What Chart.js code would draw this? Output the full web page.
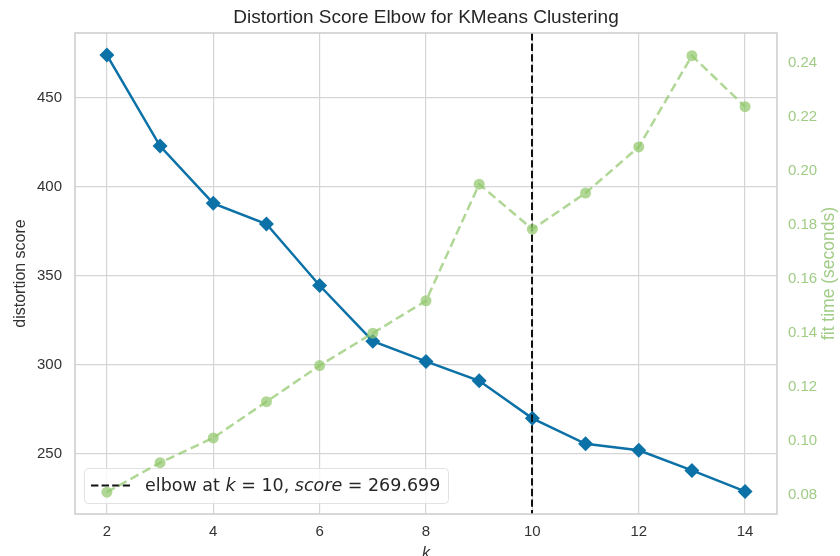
<!DOCTYPE html>
<html>
<head>
<meta charset="utf-8">
<script src="https://cdn.jsdelivr.net/npm/chart.js@4.4.1/dist/chart.umd.min.js"></script>
<style>
    html, body { margin: 0; padding: 0; background: #fff; }
    #wrap { width: 840px; height: 556px; }
</style>
</head>
<body>
<div id="wrap"><canvas id="elbowChart" width="840" height="556"></canvas></div>
<script>
// ==================================================
// DATA
// ==================================================
const kValues = [2, 3, 4, 5, 6, 7, 8, 9, 10, 11, 12, 13, 14];
const distortionScores = [474.0, 422.8, 390.6, 379.0, 344.4, 313.1, 301.7, 290.8, 269.699, 255.4, 251.7, 240.4, 228.6];
const fitTimes = [0.0811, 0.0920, 0.1012, 0.1146, 0.1280, 0.1400, 0.1520, 0.1952, 0.1785, 0.1919, 0.2090, 0.2428, 0.2239];

const kTicks = [2, 4, 6, 8, 10, 12, 14];
const scoreTicks = [250, 300, 350, 400, 450];
const timeTicks = [0.08, 0.10, 0.12, 0.14, 0.16, 0.18, 0.20, 0.22, 0.24];

const elbowK = 10;
const elbowScore = 269.699;

// ==================================================
// STYLE
// ==================================================
const SANS = "'Liberation Sans', Arial, sans-serif";
const DEJAVU = "'DejaVu Sans', sans-serif";
const BLUE = '#0b71a6';
const GREEN = 'rgba(146, 200, 108, 0.72)';
const GREEN_TEXT = '#a0cc86';
const TEXT = '#333333';
const GRID = '#d5d5d5';

const fixSize = (w, h) => scale => {
    if (w != null) scale.width = w;
    if (h != null) scale.height = h;
};
const setTicks = values => scale => { scale.ticks = values.map(v => ({ value: v })); };

// elbow line + legend sit between the two series (like the twin axes)
function drawElbowAndLegend(chart) {
    const { ctx, chartArea: a, scales } = chart;
    ctx.save();

    const ex = Math.round(scales.x.getPixelForValue(elbowK));
    ctx.strokeStyle = '#111';
    ctx.lineWidth = 2;
    ctx.setLineDash([7.4, 3.2]);
    ctx.beginPath();
    ctx.moveTo(ex, a.top);
    ctx.lineTo(ex, a.bottom);
    ctx.stroke();
    ctx.setLineDash([]);

    const bx = a.left + 9, by = a.bottom - 46, bw = 364, bh = 35;
    ctx.fillStyle = 'rgba(255,255,255,0.8)';
    ctx.strokeStyle = '#e2e2e2';
    ctx.lineWidth = 1;
    ctx.beginPath();
    ctx.roundRect(bx + 0.5, by + 0.5, bw, bh, 4);
    ctx.fill();
    ctx.stroke();

    const cy = by + bh / 2;
    ctx.strokeStyle = '#111';
    ctx.lineWidth = 2;
    ctx.setLineDash([7.4, 3.2]);
    ctx.beginPath();
    ctx.moveTo(bx + 7, cy);
    ctx.lineTo(bx + 46, cy);
    ctx.stroke();
    ctx.setLineDash([]);

    const parts = [
        ['elbow at ', false], ['k', true], [' = 10, ', false],
        ['score', true], [' = ' + elbowScore.toFixed(3), false],
    ];
    ctx.fillStyle = '#262626';
    ctx.textAlign = 'left';
    ctx.textBaseline = 'middle';
    let tx = bx + 61;
    parts.forEach(([txt, italic]) => {
        ctx.font = `${italic ? 'italic ' : ''}17.5px ${DEJAVU}`;
        ctx.fillText(txt, tx, cy + 1);
        tx += ctx.measureText(txt).width;
    });
    ctx.restore();
}

const decorations = {
    id: 'decorations',
    afterDatasetDraw(chart, args) {
        if (args.index === 0) drawElbowAndLegend(chart);
    },
    afterDatasetsDraw(chart) {
        const { ctx, chartArea: a } = chart;
        ctx.save();

        // spines
        ctx.strokeStyle = '#cccccc';
        ctx.lineWidth = 1.5;
        ctx.strokeRect(a.left, a.top, a.right - a.left, a.bottom - a.top);

        // title
        ctx.fillStyle = '#262626';
        ctx.font = `19px ${SANS}`;
        ctx.textAlign = 'center';
        ctx.textBaseline = 'middle';
        ctx.fillText('Distortion Score Elbow for KMeans Clustering', (a.left + a.right) / 2, 18);

        // right axis label, read bottom to top
        ctx.translate(829, (a.top + a.bottom) / 2);
        ctx.rotate(-Math.PI / 2);
        ctx.fillStyle = GREEN_TEXT;
        ctx.font = `17.5px ${SANS}`;
        ctx.fillText('fit time (seconds)', 0, 0);

        ctx.restore();
    },
};

new Chart(document.getElementById('elbowChart'), {
    type: 'line',
    data: {
        datasets: [
            {
                label: 'distortion score',
                data: kValues.map((k, i) => ({ x: k, y: distortionScores[i] })),
                yAxisID: 'y',
                borderColor: BLUE,
                backgroundColor: BLUE,
                borderWidth: 2.5,
                pointStyle: 'rectRot',
                pointRadius: 7.5,
                pointBorderWidth: 0,
                tension: 0,
                order: 1,
            },
            {
                label: 'fit time',
                data: kValues.map((k, i) => ({ x: k, y: fitTimes[i] })),
                yAxisID: 'y2',
                borderColor: GREEN,
                backgroundColor: GREEN,
                borderWidth: 2.5,
                borderDash: [9, 4.5],
                pointStyle: 'circle',
                pointRadius: 5.5,
                pointBorderWidth: 0,
                tension: 0,
                order: 0,
            },
        ],
    },
    options: {
        responsive: false,
        animation: false,
        devicePixelRatio: 1,
        layout: { padding: { top: 33, left: 0, right: 0, bottom: 0 } },
        plugins: { legend: { display: false }, tooltip: { enabled: false }, title: { display: false } },
        scales: {
            x: {
                type: 'linear',
                min: 1.4, max: 14.6,
                afterFit: fixSize(null, 42),
                afterBuildTicks: setTicks(kTicks),
                grid: { color: GRID, lineWidth: 1.2, drawTicks: false },
                border: { display: false },
                ticks: { color: TEXT, font: { family: SANS, size: 15 }, padding: 9, callback: v => String(v) },
                title: { display: true, text: 'k', color: TEXT, font: { family: SANS, size: 16, style: 'italic', lineHeight: 1 }, padding: { top: 0, bottom: -6 } },
            },
            y: {
                position: 'left',
                min: 215.9, max: 486.4,
                afterFit: fixSize(75, null),
                afterBuildTicks: setTicks(scoreTicks),
                grid: { color: GRID, lineWidth: 1.2, drawTicks: false },
                border: { display: false },
                ticks: { color: TEXT, font: { family: SANS, size: 15 }, padding: 13, callback: v => String(v) },
                title: { display: true, text: 'distortion score', color: TEXT, font: { family: SANS, size: 16, lineHeight: 1.2 }, padding: { top: 11, bottom: 0 } },
            },
            y2: {
                position: 'right',
                min: 0.0730, max: 0.2512,
                afterFit: fixSize(63, null),
                afterBuildTicks: setTicks(timeTicks),
                grid: { display: false, drawTicks: false },
                border: { display: false },
                ticks: { color: GREEN_TEXT, font: { family: SANS, size: 15 }, padding: 11, callback: v => v.toFixed(2) },
            },
        },
    },
    plugins: [decorations],
});
</script>
</body>
</html>
